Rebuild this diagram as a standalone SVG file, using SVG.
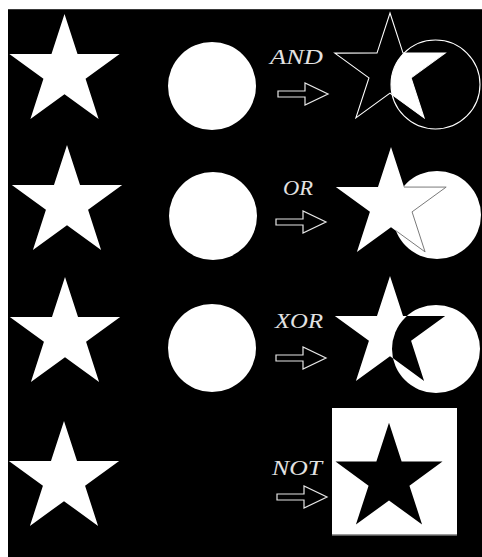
<svg xmlns="http://www.w3.org/2000/svg" xmlns:xlink="http://www.w3.org/1999/xlink" width="482" height="557" viewBox="0 0 482 557">
  <style>
    .w { fill: #ffffff; }
    .k { fill: #000000; }
    .outline { fill: none; stroke: #ffffff; stroke-width: 1.1; }
    .seam { fill: none; stroke: #7a7a7a; stroke-width: 1; }
    .lbl { font-family: "Liberation Serif", "DejaVu Serif", serif; font-style: italic; font-size: 20px; fill: #e2e2e2; }
    .arrow { fill: none; stroke: #e6e6e6; stroke-width: 1.2; stroke-linejoin: miter; }
  </style>
  <defs>
    <path id="star" d="M0,-58 L13.02,-17.93 L55.16,-17.92 L21.07,6.85 L34.09,46.92 L0,22.16 L-34.09,46.92 L-21.07,6.85 L-55.16,-17.92 L-13.02,-17.93 Z"/>
    <path id="arr" d="M-50,-3 L-23,-3 L-23,-11 L0,0 L-23,11 L-23,3 L-50,3 Z"/>
    <clipPath id="cAnd" clipPathUnits="userSpaceOnUse"><circle cx="435.5" cy="84.5" r="44.5"/></clipPath>
    <clipPath id="cOr" clipPathUnits="userSpaceOnUse"><circle cx="437" cy="215" r="44"/></clipPath>
    <clipPath id="cXor" clipPathUnits="userSpaceOnUse"><circle cx="436" cy="349" r="44"/></clipPath>
  </defs>

  <rect x="0" y="0" width="482" height="557" fill="#ffffff"/>
  <rect x="8" y="9" width="474" height="548" fill="#000000"/>
  <line x1="8" y1="9.5" x2="482" y2="9.5" stroke="#3a3a3a" stroke-width="1"/>

  <!-- inputs -->
  <g id="star1"><use xlink:href="#star" class="w" transform="translate(64.5,72)"/></g>
  <g id="circle1"><circle class="w" cx="212" cy="86" r="44"/></g>
  <g id="star2"><use xlink:href="#star" class="w" transform="translate(67,203)"/></g>
  <g id="circle2"><circle class="w" cx="213" cy="216" r="44"/></g>
  <g id="star3"><use xlink:href="#star" class="w" transform="translate(65,335)"/></g>
  <g id="circle3"><circle class="w" cx="212" cy="348" r="44"/></g>
  <g id="star4"><use xlink:href="#star" class="w" transform="translate(64,479)"/></g>

  <!-- labels -->
  <g id="label-and"><text class="lbl" x="270" y="64" textLength="53" lengthAdjust="spacingAndGlyphs">AND</text></g>
  <g id="label-or"><text class="lbl" x="283" y="195" textLength="30" lengthAdjust="spacingAndGlyphs">OR</text></g>
  <g id="label-xor"><text class="lbl" x="275" y="328" textLength="48" lengthAdjust="spacingAndGlyphs">XOR</text></g>
  <g id="label-not"><text class="lbl" x="272" y="475" textLength="50" lengthAdjust="spacingAndGlyphs">NOT</text></g>

  <!-- connectors (arrows) -->
  <g id="connectors">
    <use xlink:href="#arr" class="arrow" transform="translate(328,94)"/>
    <use xlink:href="#arr" class="arrow" transform="translate(326,222)"/>
    <use xlink:href="#arr" class="arrow" transform="translate(326,358)"/>
    <use xlink:href="#arr" class="arrow" transform="translate(327,497)"/>
  </g>

  <!-- AND result -->
  <g id="result-and">
    <g clip-path="url(#cAnd)"><use xlink:href="#star" class="w" transform="translate(390,71)"/></g>
    <use xlink:href="#star" class="outline" transform="translate(390,71)"/>
    <circle class="outline" cx="435.5" cy="84.5" r="44.5"/>
  </g>

  <!-- OR result -->
  <g id="result-or">
    <circle class="w" cx="437" cy="215" r="44"/>
    <use xlink:href="#star" class="w" transform="translate(391,205)"/>
    <g clip-path="url(#cOr)"><use xlink:href="#star" class="seam" transform="translate(391,205)"/></g>
  </g>

  <!-- XOR result -->
  <g id="result-xor">
    <circle class="w" cx="436" cy="349" r="44"/>
    <use xlink:href="#star" class="w" transform="translate(390,334)"/>
    <g clip-path="url(#cXor)"><use xlink:href="#star" class="k" transform="translate(390,334)"/></g>
  </g>

  <!-- NOT result -->
  <g id="result-not">
    <rect class="w" x="332" y="408" width="125" height="127"/>
    <line x1="332" y1="535" x2="457" y2="535" stroke="#777" stroke-width="1.5"/>
    <use xlink:href="#star" class="k" transform="translate(389,479) scale(0.97)"/>
  </g>
</svg>
